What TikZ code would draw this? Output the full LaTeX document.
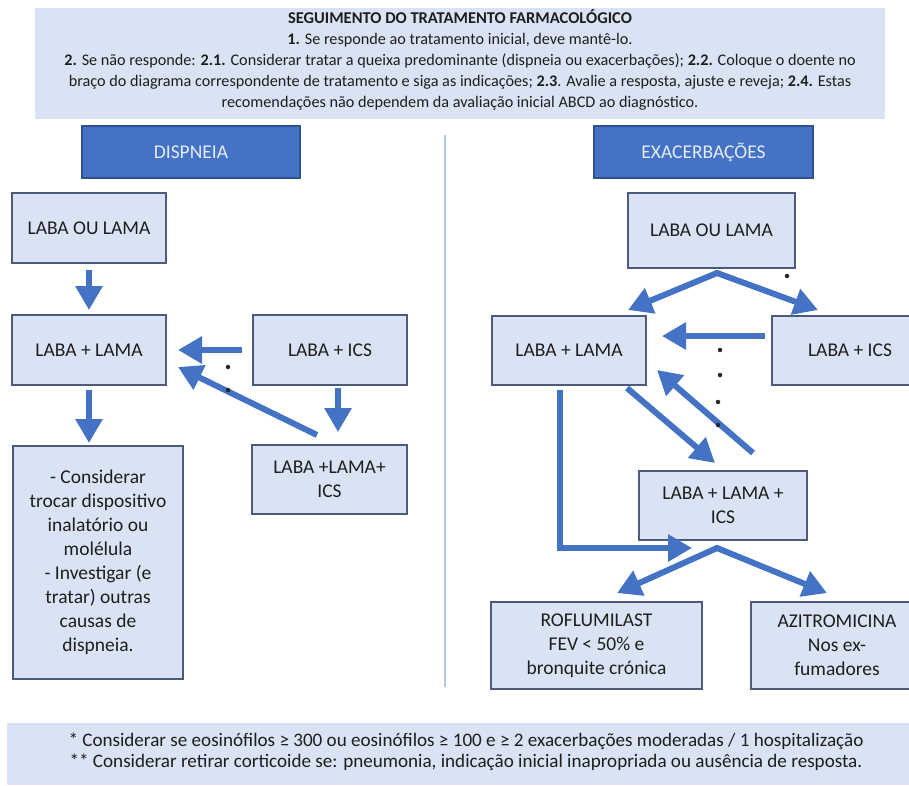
\documentclass[tikz,border=0pt]{standalone}
\usepackage{fontspec}
\setmainfont{Carlito}
\usetikzlibrary{arrows.meta,calc}
\definecolor{boxfill}{HTML}{DAE3F3}
\definecolor{boxline}{HTML}{4D5B7C}
\definecolor{hdfill}{HTML}{4472C4}
\definecolor{hdline}{HTML}{2F528F}
\definecolor{hdtext}{HTML}{E4EBF7}
\definecolor{arr}{HTML}{4472C4}
\definecolor{txt}{HTML}{1E1E1E}
\definecolor{divider}{HTML}{B4C7E7}
\tikzset{
  bx/.style={draw=boxline, fill=boxfill, line width=1.5pt, inner sep=0pt, outer sep=0pt,
    align=center, text=txt, font=\fontsize{19.5}{24}\selectfont},
  hd/.style={draw=hdline, fill=hdfill, line width=1.5pt, inner sep=0pt, outer sep=0pt,
    text=hdtext, font=\fontsize{19.5}{24}\selectfont},
  panel/.style={fill=boxfill, inner sep=0pt, outer sep=0pt},
  ptext/.style={inner sep=0pt, outer sep=0pt, align=center, text=txt},
  ar/.style={draw=arr, line width=6pt, -{Triangle[width=26pt,length=24pt]}},
  dotm/.style={circle, fill=black!85, inner sep=0pt, minimum size=4.5pt}
}
\begin{document}
\begin{tikzpicture}[x=1pt,y=-1pt]
\useasboundingbox (0,0) rectangle (909,785);
\clip (0,0) rectangle (909,785);
\fill[white] (0,0) rectangle (909,785);

% top panel
\node[panel, minimum width=850pt, minimum height=111pt] (top) at (460,63.5) {};
\node[ptext, font=\fontsize{16.2}{21}\selectfont] (toptext) at (460,60)
{{\fontsize{16.5}{21}\selectfont\textbf{SEGUIMENTO DO TRATAMENTO FARMACOLÓGICO}}\\
\textbf{1.} Se responde ao tratamento inicial, deve mantê-lo.\\
\textbf{2.} Se não responde: \textbf{2.1.} Considerar tratar a queixa predominante (dispneia ou exacerbações); \textbf{2.2.} Coloque o doente no\\
braço do diagrama correspondente de tratamento e siga as indicações; \textbf{2.3}. Avalie a resposta, ajuste e reveja; \textbf{2.4.} Estas\\
recomendações não dependem  da avaliação inicial ABCD ao diagnóstico.};

% headers
\node[hd, minimum width=218pt, minimum height=52pt] (hd1) at (191,152) {DISPNEIA};
\node[hd, minimum width=219pt, minimum height=52pt] (hd2) at (703.5,152) {EXACERBAÇÕES};

% divider
\coordinate (dv1) at (445,135);
\coordinate (dv2) at (445,687);
\draw[divider, line width=1.5pt] (dv1) -- (dv2);

% left side
\node[bx, minimum width=154pt, minimum height=70pt] (l1) at (89,228) {LABA OU LAMA};
\node[bx, minimum width=154pt, minimum height=70pt] (l2) at (89,350) {LABA + LAMA};
\node[bx, minimum width=154pt, minimum height=70pt] (l3) at (330,350) {LABA + ICS};
\node[bx, minimum width=155pt, minimum height=69pt] (l4) at (329.5,479.5) {LABA +LAMA+\\ICS};
\node[bx, minimum width=170pt, minimum height=233pt] (l5) at (98,562.5)
{- Considerar\\trocar dispositivo\\inalatório ou\\molélula\\- Investigar (e\\tratar) outras\\causas de\\dispneia.};

\draw[ar] ($(l1.south)+(0,7)$) -- ($(l2.north)+(0,-5)$);
\draw[ar] ($(l3.west)+(-11,0)$) -- ($(l2.east)+(12,0)$);
\draw[ar] ($(l4.north west)+(65,-10)$) -- ($(l2.east)+(12,17)$);
\draw[ar] ($(l3.south)+(8,3)$) -- ($(l4.north)+(8.5,-13)$);
\draw[ar] ($(l2.south)+(0,5)$) -- ($(l5.north)+(-9,-3)$);

\node[dotm] (d1) at (228,367) {};
\node[dotm] (d2) at (228,390) {};

% right side
\node[bx, minimum width=167pt, minimum height=75pt] (r1) at (711.5,230.5) {LABA OU LAMA};
\node[bx, minimum width=154pt, minimum height=69pt] (r2) at (569,350.5) {LABA + LAMA};
\node[bx, minimum width=156pt, minimum height=69pt] (r3) at (850,350.5) {LABA + ICS};
\node[bx, minimum width=168pt, minimum height=69pt] (r4) at (723,505.5) {LABA + LAMA +\\ICS};
\node[bx, minimum width=211pt, minimum height=87pt] (r5) at (596.5,645.5) {ROFLUMILAST\\FEV < 50\% e\\bronquite crónica};
\node[bx, minimum width=172pt, minimum height=87pt] (r6) at (837,645.5) {AZITROMICINA\\Nos ex-\\fumadores};

\coordinate (fa) at ($(r1.south)+(5.5,5)$);
\draw[ar, line cap=round] (fa) -- ($(r2.north)+(59,-6)$);
\draw[ar, line cap=round] (fa) -- ($(r3.north)+(-32,-6)$);
\draw[ar] ($(r3.west)+(-7,-14.5)$) -- ($(r2.east)+(16,-14.5)$);
\draw[ar] ($(r2.south east)+(-19,3)$) -- ($(r4.north)+(-8,-8)$);
\draw[ar] ($(r4.north)+(30,-18)$) -- ($(r2.east)+(11,19.5)$);
\coordinate (fk) at ($(r4.south)+(-6,8)$);
\draw[ar, line join=miter] ($(r2.south)+(-9,5)$) |- ($(fk)+(-25,0)$);
\draw[ar, line cap=round] (fk) -- ($(r5.north)+(20.5,-9)$);
\draw[ar, line cap=round] (fk) -- ($(r6.north)+(-10,-9)$);

\node[dotm] (d3) at (787,276) {};
\node[dotm] (d4) at (720,350) {};
\node[dotm] (d5) at (720,375) {};
\node[dotm] (d6) at (718,402) {};
\node[dotm] (d7) at (718,425) {};

% bottom panel
\node[panel, minimum width=918pt, minimum height=62pt] (bot) at (466,754) {};
\node[ptext, font=\fontsize{19.1}{21}\selectfont] (bottext) at (466,752)
{* Considerar se eosinófilos ≥ 300 ou eosinófilos ≥ 100 e ≥ 2 exacerbações moderadas / 1 hospitalização\\
** Considerar retirar corticoide se: pneumonia, indicação inicial inapropriada ou ausência de resposta.};
\end{tikzpicture}
\end{document}
